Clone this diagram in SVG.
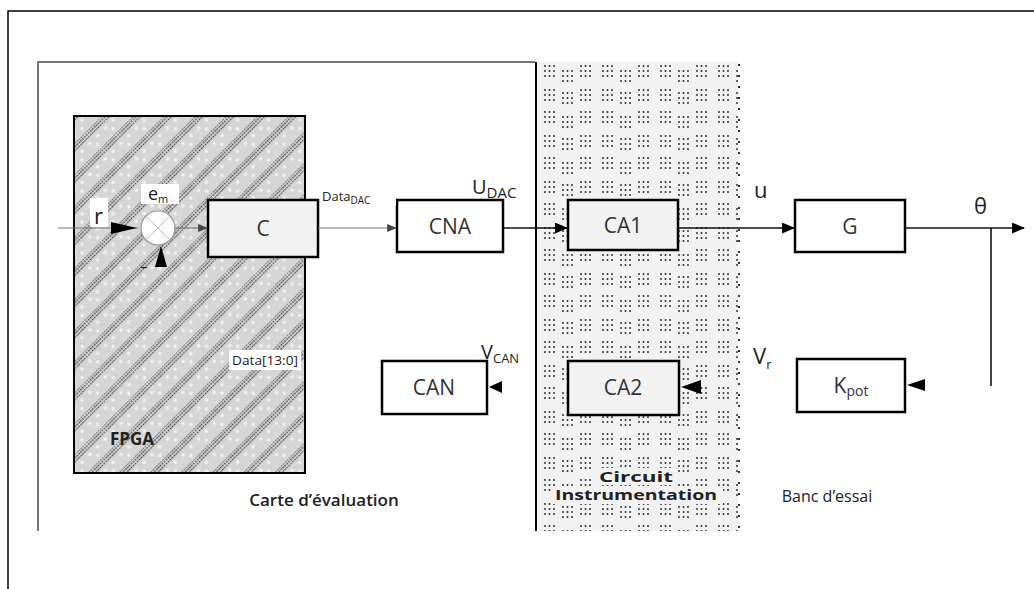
<svg xmlns="http://www.w3.org/2000/svg" width="1034" height="589" viewBox="0 0 1034 589">
<defs>
<style>
.box{stroke:#000;stroke-width:2.5}
.w{fill:#fff}
.g{fill:#f2f2f2}
.lbl{font-family:"Open Sans","Noto Sans",sans-serif;font-size:21px;fill:#333;text-anchor:middle}
.t{font-family:"Open Sans","Noto Sans",sans-serif;font-size:15px;fill:#222}
.wire{stroke:#111;stroke-width:1.6;fill:none}
.gw{stroke:#777;stroke-width:1.2;fill:none}
</style>
<marker id="ar" viewBox="0 0 12 10" refX="11" refY="5" markerWidth="13" markerHeight="11" markerUnits="userSpaceOnUse" orient="auto">
<path d="M0,0 L12,5 L0,10 Z" fill="#000"/>
</marker>
<marker id="arg" viewBox="0 0 12 10" refX="11" refY="5" markerWidth="10" markerHeight="8" markerUnits="userSpaceOnUse" orient="auto">
<path d="M0,0 L12,5 L0,10 Z" fill="#444"/>
</marker>
<pattern id="hatch" width="22" height="22" patternUnits="userSpaceOnUse" patternTransform="rotate(45)">
<rect width="22" height="22" fill="#d6d6d6"/>
<circle cx="11" cy="5" r="1.7" fill="#f4f4f4"/>
<circle cx="11" cy="16" r="1.7" fill="#f4f4f4"/>
<circle cx="17" cy="11" r="1.7" fill="#f4f4f4"/>
<line x1="0" y1="0" x2="0" y2="22" stroke="#222" stroke-width="1.2" stroke-dasharray="1.6 1.2"/>
<line x1="2.8" y1="0" x2="2.8" y2="22" stroke="#222" stroke-width="1.2" stroke-dasharray="1.6 1.2"/>
<line x1="5.6" y1="0" x2="5.6" y2="22" stroke="#333" stroke-width="1.1" stroke-dasharray="1.6 1.2"/>
</pattern>
<g id="cl">
<circle cx="0" cy="0" r="1"/><circle cx="4.5" cy="0" r="1"/><circle cx="9" cy="0" r="1"/>
<circle cx="0" cy="5" r="1"/><circle cx="4.5" cy="5" r="1"/><circle cx="9" cy="5" r="1"/>
<circle cx="0" cy="10" r="1"/><circle cx="4.5" cy="10" r="1"/><circle cx="9" cy="10" r="1"/>
</g>
<pattern id="dots" width="58" height="46" patternUnits="userSpaceOnUse" x="541" y="62">
<rect width="58" height="46" fill="#f2f2f2"/>
<g fill="#333">
<use href="#cl" x="4" y="4"/>
<use href="#cl" x="22" y="9"/>
<use href="#cl" x="40" y="4"/>
<use href="#cl" x="4" y="28"/>
<use href="#cl" x="22" y="31"/>
<use href="#cl" x="40" y="28"/>
</g>
</pattern>
</defs>

<rect id="frame" x="8" y="11" width="1040" height="600" fill="#fff" stroke="#000" stroke-width="1.5"/>

<g id="carte">
<path d="M38,531 V62 H535" fill="none" stroke="#777" stroke-width="2"/>
<text class="t" x="324" y="506" text-anchor="middle" font-weight="600" style="font-size:17px">Carte d’évaluation</text>
</g>

<g id="instrumentation">
<rect x="537" y="62" width="201" height="469" fill="url(#dots)"/>
<line x1="536" y1="62" x2="536" y2="531" stroke="#000" stroke-width="2"/>
<line x1="739" y1="64" x2="739" y2="531" stroke="#333" stroke-width="2" stroke-dasharray="2 9"/>
<rect x="595" y="468" width="82" height="17" fill="#f2f2f2"/>
<rect x="551" y="487" width="172" height="17" fill="#f2f2f2"/>
<text class="t" x="636" y="482" text-anchor="middle" font-weight="bold" style="font-size:15px" textLength="74" lengthAdjust="spacingAndGlyphs">Circuit</text>
<text class="t" x="636" y="500" text-anchor="middle" font-weight="bold" style="font-size:15px" textLength="162" lengthAdjust="spacingAndGlyphs">Instrumentation</text>
</g>

<g id="banc">
<text class="t" x="827" y="502" text-anchor="middle" style="font-size:16px">Banc d’essai</text>
</g>

<g id="fpga">
<rect x="74" y="116" width="231" height="357" fill="url(#hatch)" stroke="#000" stroke-width="2"/>
<text class="t" x="132" y="445" text-anchor="middle" font-weight="bold" style="font-size:17px">FPGA</text>
<rect x="229" y="350" width="72" height="20" fill="#fff"/>
<text class="t" x="232" y="365" style="font-size:13px" textLength="66" lengthAdjust="spacingAndGlyphs">Data[13:0]</text>
</g>

<g id="sum">
<circle cx="158" cy="228" r="17" fill="#fff" stroke="#999" stroke-width="1.2"/>
<line x1="146" y1="216" x2="170" y2="240" stroke="#bbb" stroke-width="1"/>
<line x1="170" y1="216" x2="146" y2="240" stroke="#bbb" stroke-width="1"/>
<text class="t" x="140" y="272" style="font-size:15px">–</text>
</g>

<g id="C">
<rect class="box g" x="208" y="200" width="110" height="57"/>
<text class="lbl" x="263" y="236">C</text>
</g>
<g id="CNA">
<rect class="box w" x="397" y="200" width="106" height="52"/>
<text class="lbl" x="450" y="234">CNA</text>
</g>
<g id="CA1">
<rect class="box g" x="568" y="200" width="110" height="50"/>
<text class="lbl" x="623" y="233">CA1</text>
</g>
<g id="G">
<rect class="box w" x="795" y="200" width="110" height="52"/>
<text class="lbl" x="850" y="234">G</text>
</g>
<g id="Kpot">
<rect class="box w" x="797" y="359" width="108" height="53"/>
<text class="lbl" x="851" y="393">K<tspan dy="3" style="font-size:14px">pot</tspan></text>
</g>
<g id="CA2">
<rect class="box g" x="568" y="361" width="111" height="54"/>
<text class="lbl" x="623" y="395">CA2</text>
</g>
<g id="CAN">
<rect class="box w" x="382" y="361" width="105" height="53"/>
<text class="lbl" x="434" y="395">CAN</text>
</g>

<g id="labels">
<rect x="90" y="198" width="18" height="29" fill="#fff"/>
<text class="t" x="94" y="224" style="font-size:22px">r</text>
<rect x="141" y="184" width="38" height="20" fill="#fff"/>
<text class="t" x="148" y="200" style="font-size:18px">e<tspan dy="3" style="font-size:11px">m</tspan></text>
<rect x="320" y="186" width="76" height="19" fill="#fff"/>
<text class="t" x="322" y="201" style="font-size:13px">Data<tspan dy="3" style="font-size:10px">DAC</tspan></text>
<text class="t" x="472" y="194" style="font-size:20px">U<tspan dy="4" style="font-size:15px">DAC</tspan></text>
<text class="t" x="754" y="198" style="font-size:22px">u</text>
<text class="t" x="974" y="214" style="font-size:22px">θ</text>
<text class="t" x="481" y="359" style="font-size:20px">V<tspan dy="4" style="font-size:13px">CAN</tspan></text>
<text class="t" x="753" y="364" style="font-size:22px">V<tspan dy="5" style="font-size:13px">r</tspan></text>
</g>

<g id="connectors">
<line class="gw" x1="58" y1="228" x2="138" y2="228"/>
<path d="M111,222 L137,228 L111,234 Z" fill="#000"/>
<line class="gw" x1="175" y1="228" x2="207" y2="228" marker-end="url(#arg)"/>
<path d="M155,267 L161,246 L167,267 Z" fill="#000"/>
<line class="gw" x1="318" y1="228" x2="396" y2="228" marker-end="url(#arg)"/>
<line class="wire" x1="503" y1="228" x2="567" y2="228" marker-end="url(#ar)"/>
<line class="wire" x1="678" y1="228" x2="794" y2="228" marker-end="url(#ar)"/>
<line class="wire" x1="905" y1="228" x2="1024" y2="228" marker-end="url(#ar)"/>
<line class="wire" x1="991" y1="228" x2="991" y2="386"/>
<path d="M925,379 L907,385 L925,391 Z" fill="#000"/>
<path d="M701,380 L681,387 L701,394 Z" fill="#000"/>
<path d="M502,381 L489,387 L502,393 Z" fill="#000"/>
</g>
</svg>
